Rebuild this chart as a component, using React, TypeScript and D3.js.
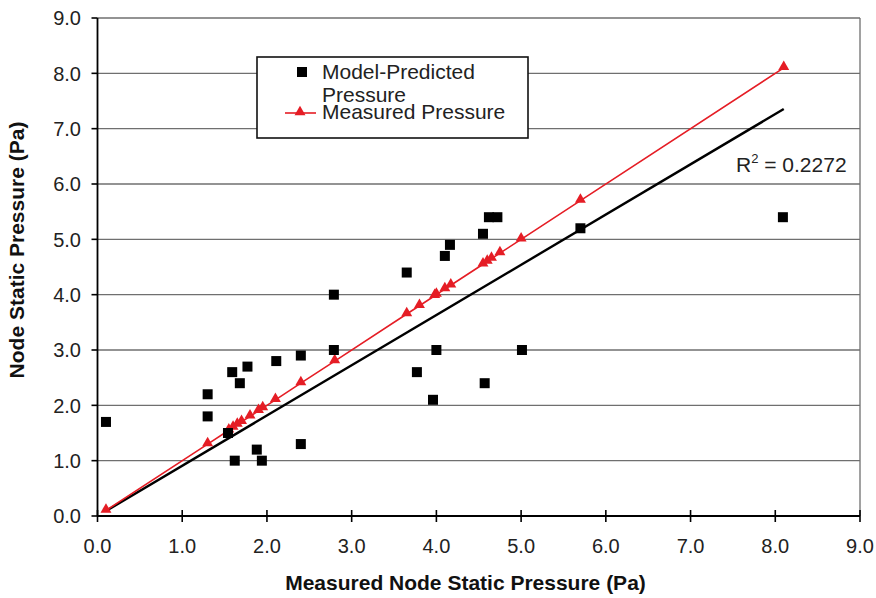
import React from "react";
import * as d3 from "d3";

const measured: number[] = [0.1, 1.3, 1.55, 1.6, 1.65, 1.7, 1.8, 1.9, 1.95, 2.1, 2.4, 2.8, 3.65, 3.8, 3.98, 4.0, 4.1, 4.17, 4.55, 4.6, 4.65, 4.75, 5.0, 5.7, 8.1];

const modelX: number[] = [0.1, 1.3, 1.3, 1.54, 1.59, 1.62, 1.68, 1.77, 1.88, 1.94, 2.11, 2.4, 2.4, 2.79, 2.79, 3.65, 3.77, 3.96, 4.0, 4.1, 4.16, 4.55, 4.57, 4.62, 4.72, 5.01, 5.7, 8.09];
const modelY: number[] = [1.7, 1.8, 2.2, 1.5, 2.6, 1.0, 2.4, 2.7, 1.2, 1.0, 2.8, 2.9, 1.3, 3.0, 4.0, 4.4, 2.6, 2.1, 3.0, 4.7, 4.9, 5.1, 2.4, 5.4, 5.4, 3.0, 5.2, 5.4];

const trendSlope = 0.908;
const trendIntercept = 0.0;
const trendRange: [number, number] = [0.1, 8.1];

const xTicks: number[] = [0, 1, 2, 3, 4, 5, 6, 7, 8, 9];
const yTicks: number[] = [0, 1, 2, 3, 4, 5, 6, 7, 8, 9];

const R2_LABEL = "0.2272";

export default function App() {
  const W = 876, H = 598;
  const x = d3.scaleLinear().domain([0, 9]).range([97.5, 860]);
  const y = d3.scaleLinear().domain([0, 9]).range([516, 18]);
  const font = "'Liberation Sans', Arial, Helvetica, sans-serif";
  const red = "#e51d25";

  const line = d3.line<number>().x((d) => x(d)).y((d) => y(d));
  const tri = d3.symbol().type(d3.symbolTriangle).size(52)() as string;
  const sq = 10;

  return (
    <svg width={W} height={H} style={{ position: "absolute", left: 0, top: 0, background: "#fff" }} fontFamily={font}>
      {/* gridlines */}
      {yTicks.filter((t) => t > 0).map((t) => (
        <line key={"g" + t} x1={x(0)} x2={x(9)} y1={y(t)} y2={y(t)} stroke="#6f6f6f" strokeWidth={1.3} />
      ))}
      <line x1={x(9)} x2={x(9)} y1={y(9)} y2={y(0)} stroke="#6f6f6f" strokeWidth={1.3} />

      {/* trend line */}
      <line
        x1={x(trendRange[0])}
        y1={y(trendSlope * trendRange[0] + trendIntercept)}
        x2={x(trendRange[1])}
        y2={y(trendSlope * trendRange[1] + trendIntercept)}
        stroke="#000"
        strokeWidth={2.4}
      />

      {/* measured line */}
      <path d={line(measured) || ""} fill="none" stroke={red} strokeWidth={1.6} />
      {measured.map((m, i) => (
        <path key={"t" + i} d={tri} transform={`translate(${x(m)},${y(m) - 1})`} fill={red} />
      ))}

      {/* model points */}
      {modelX.map((mx, i) => (
        <rect key={"s" + i} x={x(mx) - sq / 2} y={y(modelY[i]) - sq / 2} width={sq} height={sq} fill="#000" />
      ))}

      {/* axes */}
      <line x1={x(0)} x2={x(0)} y1={y(9)} y2={y(0)} stroke="#000" strokeWidth={1.8} />
      <line x1={x(0)} x2={x(9)} y1={y(0)} y2={y(0)} stroke="#000" strokeWidth={1.8} />
      {yTicks.map((t) => (
        <g key={"yt" + t}>
          <line x1={x(0) - 6} x2={x(0)} y1={y(t)} y2={y(t)} stroke="#000" strokeWidth={1.6} />
          <text x={81} y={y(t)} dy="0.36em" textAnchor="end" fontSize={20} fill="#222">
            {t.toFixed(1)}
          </text>
        </g>
      ))}
      {xTicks.map((t) => (
        <g key={"xt" + t}>
          <line x1={x(t)} x2={x(t)} y1={y(0) - 6} y2={y(0) + 6} stroke="#000" strokeWidth={1.6} />
          <text x={x(t)} y={553} textAnchor="middle" fontSize={20} fill="#222">
            {t.toFixed(1)}
          </text>
        </g>
      ))}

      {/* axis titles */}
      <text x={465.5} y={590} textAnchor="middle" fontSize={21} fontWeight="bold" fill="#111">
        Measured Node Static Pressure (Pa)
      </text>
      <text
        transform={`translate(24,250) rotate(-90)`}
        textAnchor="middle"
        fontSize={21}
        fontWeight="bold"
        fill="#111"
      >
        Node Static Pressure (Pa)
      </text>

      {/* R2 label */}
      <text x={736} y={172} fontSize={21} fill="#222">
        R<tspan dy={-9} fontSize={13}>2</tspan>
        <tspan dy={9}> = {R2_LABEL}</tspan>
      </text>

      {/* legend */}
      <rect x={257} y={57} width={271} height={81} fill="#fff" stroke="#111" strokeWidth={1.6} />
      <rect x={297} y={67} width={10} height={10} fill="#000" />
      <text x={322} y={79} fontSize={21} fill="#222">Model-Predicted</text>
      <text x={322} y={102} fontSize={21} fill="#222">Pressure</text>
      <line x1={285} x2={316} y1={113} y2={113} stroke={red} strokeWidth={1.6} />
      <path d={tri} transform={`translate(${300},${112})`} fill={red} />
      <text x={322} y={119} fontSize={21} fill="#222">Measured Pressure</text>
    </svg>
  );
}
